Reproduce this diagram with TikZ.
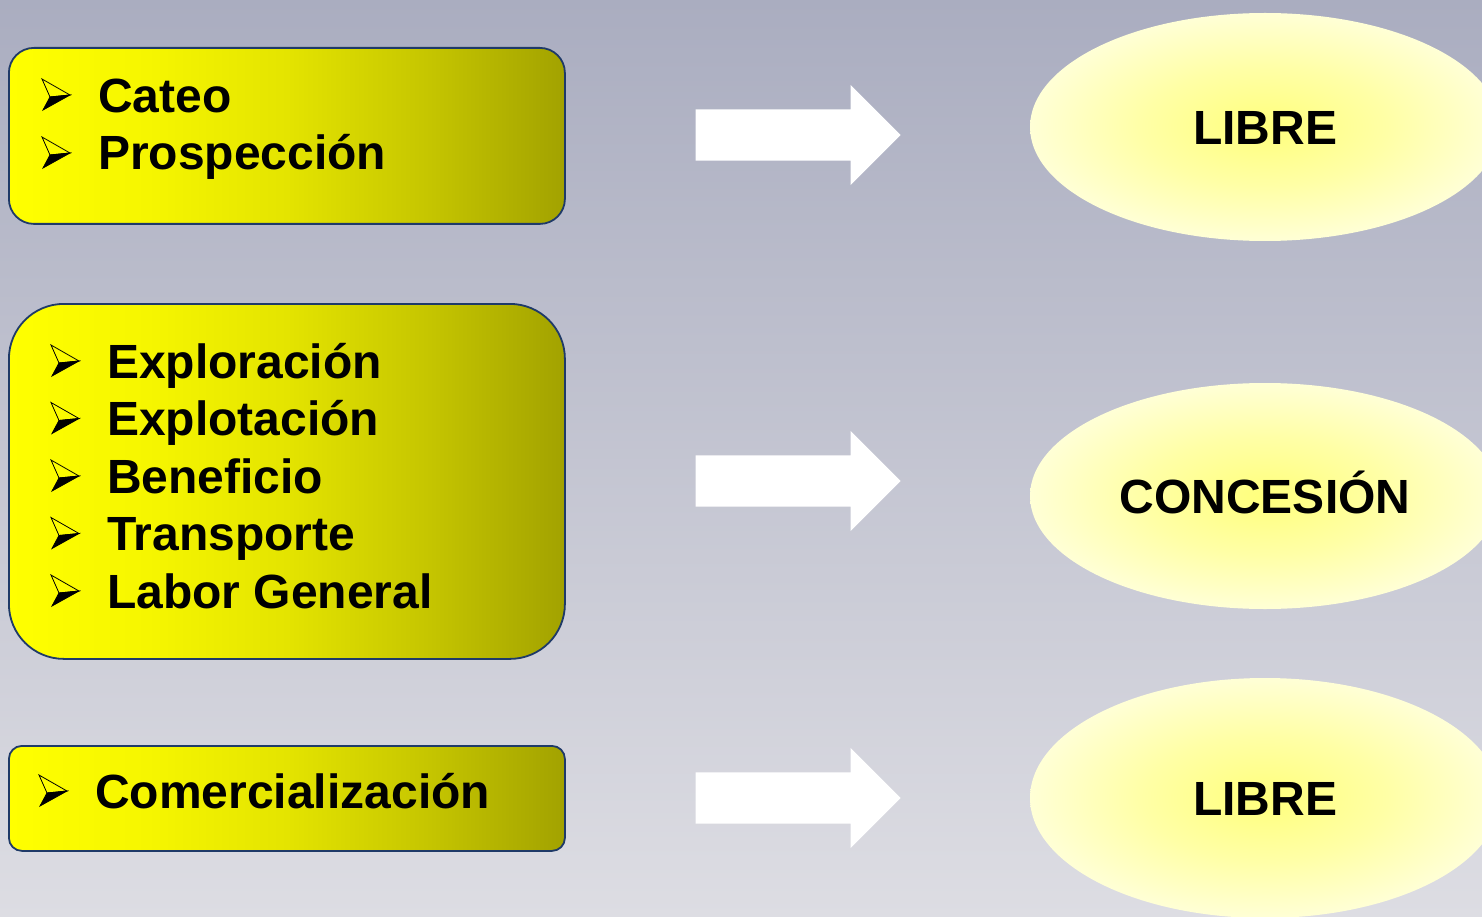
\documentclass[tikz,border=0pt]{standalone}
\usepackage{fontspec}
\setmainfont{Liberation Sans}
\usetikzlibrary{shapes.geometric,shapes.arrows}

\definecolor{bgtop}{HTML}{AAADC0}
\definecolor{bgbottom}{HTML}{DDDDE3}
\definecolor{boxline}{HTML}{1F3A68}
\definecolor{fadeA}{HTML}{FFFF00}
\definecolor{fadeB}{HTML}{F6F600}
\definecolor{fadeC}{HTML}{E4E400}
\definecolor{fadeD}{HTML}{C6C600}
\definecolor{fadeE}{HTML}{A2A200}
\definecolor{lemon}{HTML}{FFFF7C}
\definecolor{lemonmid}{HTML}{FFFFA6}
\definecolor{cream}{HTML}{FFFFD6}
\pgfdeclarehorizontalshading{yellowfade}{100bp}{color(0bp)=(fadeA); color(25bp)=(fadeA); color(37.5bp)=(fadeB); color(50bp)=(fadeC); color(62.5bp)=(fadeD); color(75bp)=(fadeE); color(100bp)=(fadeE)}
\pgfdeclareradialshading{glow}{\pgfpoint{0bp}{0bp}}{color(0bp)=(lemon); color(13bp)=(lemonmid); color(25bp)=(cream); color(50bp)=(cream)}

% 行高支柱: 基线上 45pt, 基线下 12pt
\newcommand\lstrut{\rule[-12pt]{0pt}{57pt}}

\begin{document}
\begin{tikzpicture}[
                x=1pt, y=-1pt,                % 像素坐标, y 向下
                itembox/.style={
                    draw=boxline,
                    line width=1.8pt,
                    shading=yellowfade,
                    inner sep=0pt,
                    anchor=north west
                },
                itemlist/.style={align=left, inner sep=0pt, anchor=north west,
                    font=\fontsize{48}{57.5}\selectfont\bfseries},
                bullet/.pic={
                    \draw[line width=0.8pt, line join=miter] (1,-33) -- (29,-17) -- (9,-15) -- cycle;
                    \filldraw[line width=0.8pt, line join=miter] (9,-15) -- (29,-17) -- (2,-2) -- cycle;
                },
                blockarrow/.style={single arrow, fill=white, inner xsep=0pt, inner ysep=25.5pt,
                    minimum height=205pt, single arrow head extend=24.5pt, anchor=tip},
                regime/.style={ellipse, shading=glow, inner sep=0pt, minimum width=470pt,
                    font=\fontsize{48}{48}\selectfont\bfseries,
                    text height=34.5pt, text depth=0pt}
            ]
                % 背景
                \useasboundingbox (0,0) rectangle (1482,917);
                \shade[top color=bgtop, bottom color=bgbottom] (0,0) rectangle (1482,917);

                % 方框
                \node[itembox, minimum width=556pt, minimum height=176pt, rounded corners=25pt] (boxA) at (8,47) {};
                \node[itembox, minimum width=556pt, minimum height=355pt, rounded corners=55pt] (boxB) at (8,303) {};
                \node[itembox, minimum width=556pt, minimum height=105pt, rounded corners=13pt] (boxC) at (8,745) {};

                % 列表
                \node[itemlist] (listA) at (98,67) {\lstrut Cateo\\\lstrut Prospección};
                \node[itemlist] (listB) at (107,333) {\lstrut Exploración\\\lstrut Explotación\\\lstrut Beneficio\\\lstrut Transporte\\\lstrut Labor General};
                \node[itemlist] (listC) at (95,763) {\lstrut Comercialización};

                % 列表符号
                \foreach \y in {112,170} \pic at (41,\y) {bullet};
                \foreach \y in {378,435.5,493,550.5,608} \pic at (50,\y) {bullet};
                \pic at (38,808) {bullet};

                % 箭头
                \node[blockarrow] (arrA) at (901,135) {};
                \node[blockarrow] (arrB) at (901,481) {};
                \node[blockarrow] (arrC) at (901,798) {};

                % 椭圆
                \node[regime, minimum height=228pt] (libreA) at (1265,127) {LIBRE};
                \node[regime, minimum height=226pt] (concesion) at (1265,496) {CONCESIÓN};
                \node[regime, minimum height=240pt] (libreB) at (1265,798) {LIBRE};
            \end{tikzpicture}
\end{document}
